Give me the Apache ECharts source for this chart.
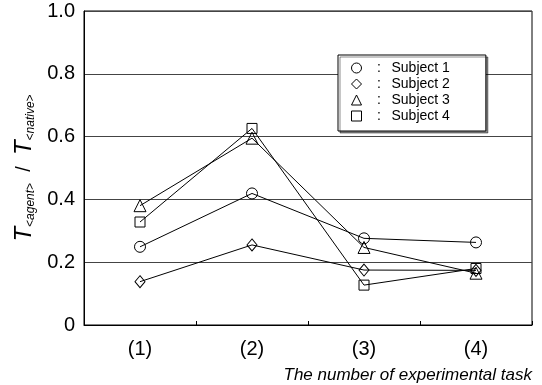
<!DOCTYPE html>
<html>
<head>
<meta charset="utf-8">
<script src="https://cdn.jsdelivr.net/npm/echarts@6/dist/echarts.min.js"></script>
<style>
html,body{margin:0;padding:0;background:#fff;}
#chart{width:542px;height:385px;}
</style>
</head>
<body>
<div id="chart"></div>
<script>
// ---- data ----
var categories = ['(1)', '(2)', '(3)', '(4)'];
var subjectNames = ['Subject 1', 'Subject 2', 'Subject 3', 'Subject 4'];
var subject1 = [0.249, 0.419, 0.276, 0.263];
var subject2 = [0.138, 0.255, 0.175, 0.174];
var subject3 = [0.380, 0.595, 0.247, 0.165];
var subject4 = [0.328, 0.626, 0.127, 0.180];
var yTickLabels = ['0', '0.2', '0.4', '0.6', '0.8', '1.0'];

var seriesValues = [subject1, subject2, subject3, subject4];
var symbols = ['circle', 'diamond', 'triangle', 'rect'];
var symbolSizes = [11, [10, 12], 12, 10];

var chart = echarts.init(document.getElementById('chart'), null, {renderer: 'canvas'});
var FONT = 'Liberation Sans, Arial, sans-serif';

var series = seriesValues.map(function (vals, i) {
  return {
    name: subjectNames[i],
    type: 'line',
    data: vals,
    symbol: symbols[i],
    symbolSize: symbolSizes[i],
    showAllSymbol: true,
    lineStyle: {color: '#000', width: 1},
    itemStyle: {color: 'rgba(255,255,255,0)', borderColor: '#000', borderWidth: 1},
    emphasis: {disabled: true},
    animation: false,
    z: 3
  };
});

var option = {
  animation: false,
  grid: {left: 84, top: 11, right: 10, bottom: 60, show: true, borderColor: '#000', borderWidth: 1, backgroundColor: 'transparent'},
  legend: {
    orient: 'vertical',
    left: 338,
    top: 55,
    padding: [5, 36, 7, 13],
    itemGap: 0,
    itemWidth: 10,
    itemHeight: 10,
    backgroundColor: '#fff',
    borderColor: '#000',
    borderWidth: 1,
    shadowColor: 'rgba(0,0,0,0.45)',
    shadowOffsetX: 2,
    shadowOffsetY: 2,
    shadowBlur: 0,
    selectedMode: false,
    data: subjectNames.map(function (n, i) {
      return {name: n, icon: symbols[i], itemStyle: {color: 'rgba(255,255,255,0)', borderColor: '#000', borderWidth: 1}};
    }),
    formatter: function (name) { return '{c|:}{t|' + name + '}'; },
    textStyle: {
      fontFamily: FONT, fontSize: 14, color: '#000', lineHeight: 16,
      rich: {
        c: {width: 25, align: 'center', fontSize: 14, fontFamily: FONT, color: '#000', lineHeight: 16},
        t: {fontSize: 14, fontFamily: FONT, color: '#000', lineHeight: 16}
      }
    }
  },
  xAxis: {
    type: 'category',
    data: categories,
    boundaryGap: true,
    axisLine: {lineStyle: {color: '#000', width: 1}},
    axisTick: {show: true, inside: true, length: 4, lineStyle: {color: '#000'}},
    axisLabel: {fontFamily: FONT, fontSize: 20, color: '#000', margin: 14},
    splitLine: {show: false},
    name: 'The number of experimental task',
    nameLocation: 'end',
    nameGap: 0,
    nameTextStyle: {fontFamily: FONT, fontSize: 17, fontStyle: 'italic', color: '#000', align: 'right', verticalAlign: 'top', padding: [42, 0, 0, 0]}
  },
  yAxis: {
    type: 'value',
    min: 0,
    max: 1,
    interval: 0.2,
    axisLine: {show: true, lineStyle: {color: '#000', width: 1}},
    axisTick: {show: false},
    axisLabel: {
      fontFamily: FONT, fontSize: 20, color: '#000', margin: 9,
      formatter: function (v) { return yTickLabels[Math.round(v / 0.2)]; }
    },
    splitLine: {show: true, lineStyle: {color: '#444', width: 1}},
    name: '{t|T}{s|<agent>}{sl|  /  }{t|T}{s|<native>}',
    nameLocation: 'middle',
    nameRotate: 90,
    nameGap: 47,
    nameTextStyle: {
      color: '#000',
      rich: {
        t: {fontFamily: FONT, fontSize: 24, fontStyle: 'italic', color: '#000'},
        s: {fontFamily: FONT, fontSize: 12, fontStyle: 'italic', color: '#000', verticalAlign: 'bottom'},
        sl: {fontFamily: FONT, fontSize: 20, color: '#000'}
      }
    }
  },
  series: series
};
chart.setOption(option);
</script>
</body>
</html>
